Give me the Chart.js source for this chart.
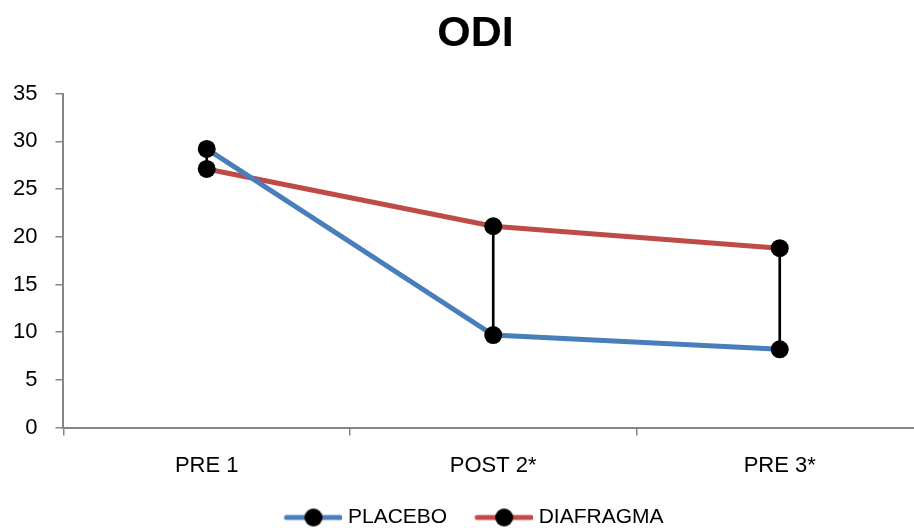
<!DOCTYPE html>
<html lang="es">
<head>
  <meta charset="UTF-8">
  <title>ODI</title>
  <script src="https://cdn.jsdelivr.net/npm/chart.js"></script>
  <style>
    html, body { margin: 0; padding: 0; background: #fff; overflow: hidden; }
    /* the plot runs slightly past the right edge in the original, so the canvas is cropped */
    #wrap { width: 914px; height: 528px; overflow: hidden; }
    #odiChart { margin-left: -5px; display: block; }
  </style>
</head>
<body>
  <div id="wrap"><canvas id="odiChart" width="937" height="538"></canvas></div>

  <script>
    // values
    const categories = ['PRE 1', 'POST 2*', 'PRE 3*'];
    const placebo    = [29.2, 9.7, 8.2];
    const diafragma  = [27.1, 21.1, 18.8];
    const yTicks     = { min: 0, max: 35, step: 5 };

    const BLUE = '#4A7EBB';
    const RED  = '#BE4B48';
    const AXIS = '#868686';
    const FONT = "'Liberation Sans', Arial, sans-serif";

    // high-low lines between the two series, as thin floating bars
    const hiLo = categories.map((c, i) => [Math.min(placebo[i], diafragma[i]), Math.max(placebo[i], diafragma[i])]);

    // legend swatch: blank lead-in, then a line with a black dot in the middle
    // (image is 10px wider than the legend box so the line sits closer to the text)
    function swatch(color) {
      const c = document.createElement('canvas');
      c.width = 80; c.height = 20;
      const g = c.getContext('2d');
      g.strokeStyle = color; g.lineWidth = 5; g.lineCap = 'round';
      g.beginPath(); g.moveTo(24, 10); g.lineTo(78, 10); g.stroke();
      g.fillStyle = '#000';
      g.beginPath(); g.arc(51, 10, 9, 0, Math.PI * 2); g.fill();
      return c;
    }
    const swatches = [swatch(BLUE), swatch(RED)];

    // nudge title and legend to the right, as in the original
    const shiftBlocks = {
      id: 'shiftBlocks',
      afterLayout(chart) {
        chart.titleBlock.left += 12; chart.titleBlock.right += 12;
        chart.legend.left += 2; chart.legend.right += 2;
      }
    };

    const ctx = document.getElementById('odiChart').getContext('2d');
    new Chart(ctx, {
      data: {
        labels: categories,
        datasets: [
          { type: 'line', label: 'PLACEBO', data: placebo, borderColor: BLUE, borderWidth: 5,
            pointRadius: 9, pointHoverRadius: 9, pointBackgroundColor: '#000', pointBorderColor: '#000',
            pointBorderWidth: 0, tension: 0, order: 1 },
          { type: 'line', label: 'DIAFRAGMA', data: diafragma, borderColor: RED, borderWidth: 5,
            pointRadius: 9, pointHoverRadius: 9, pointBackgroundColor: '#000', pointBorderColor: '#000',
            pointBorderWidth: 0, tension: 0, order: 1 },
          { type: 'bar', label: 'hilo', data: hiLo, backgroundColor: '#000', barThickness: 2, order: 2,
            grouped: false }
        ]
      },
      plugins: [shiftBlocks],
      options: {
        responsive: false,
        animation: false,
        layout: { padding: { left: 0, right: 0, top: 6, bottom: 0 } },
        plugins: {
          title: {
            display: true, text: 'ODI', color: '#000',
            font: { family: FONT, size: 43, weight: 'bold' },
            padding: { top: 2, bottom: 34 }
          },
          legend: {
            position: 'bottom',
            labels: {
              color: '#000',
              font: { family: FONT, size: 21 },
              usePointStyle: true,
              pointStyleWidth: 70,
              padding: 11,
              generateLabels(chart) {
                return chart.data.datasets.slice(0, 2).map((ds, i) => ({
                  text: ds.label, datasetIndex: i, pointStyle: swatches[i],
                  fillStyle: ds.borderColor, strokeStyle: ds.borderColor, lineWidth: 0, hidden: false
                }));
              }
            }
          },
          tooltip: { enabled: false }
        },
        scales: {
          x: {
            offset: true,
            grid: { offset: true, drawOnChartArea: false, drawTicks: true, tickLength: 8, color: AXIS, lineWidth: 1.5 },
            border: { color: AXIS, width: 2 },
            ticks: { color: '#000', font: { family: FONT, size: 22 }, padding: 17 }
          },
          y: {
            min: yTicks.min, max: yTicks.max,
            grid: { drawOnChartArea: false, drawTicks: true, tickLength: 8, color: AXIS, lineWidth: 1.5 },
            border: { color: AXIS, width: 2 },
            ticks: { stepSize: yTicks.step, color: '#000', font: { family: FONT, size: 22 }, padding: 18 }
          }
        }
      }
    });
  </script>
</body>
</html>
